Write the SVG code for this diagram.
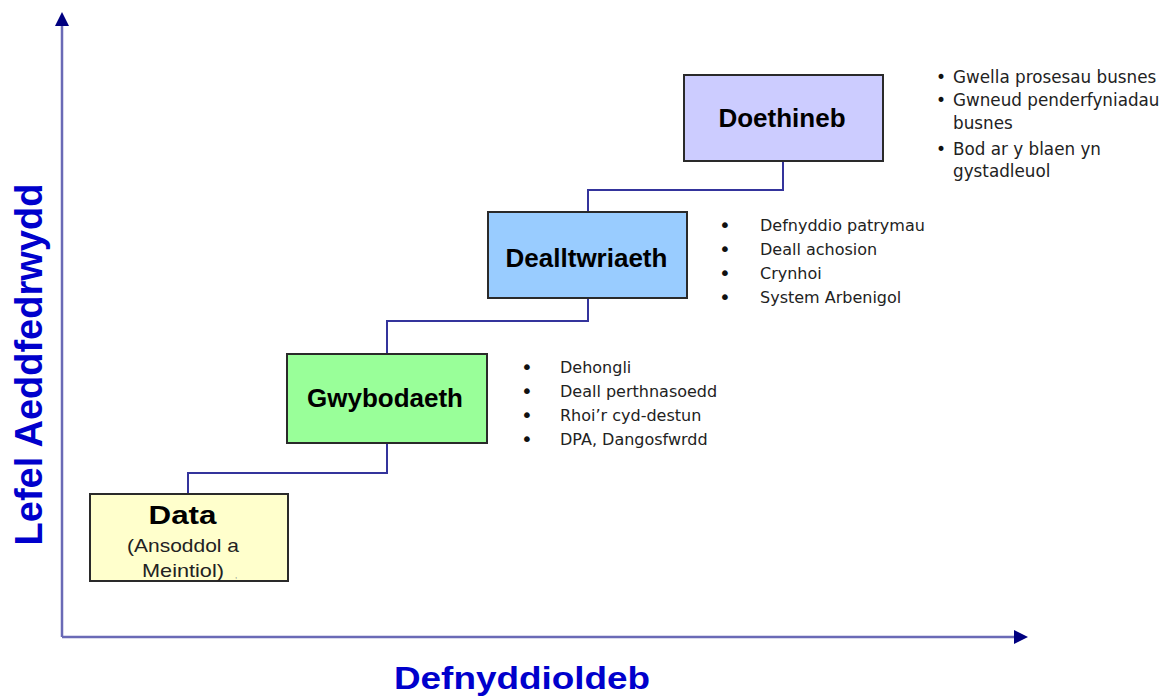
<svg xmlns="http://www.w3.org/2000/svg" width="1166" height="697" viewBox="0 0 1166 697">
<style>
.box{stroke:#2a2a2a;stroke-width:2}
.title{font-family:"Liberation Sans",Arial,sans-serif;font-weight:bold;font-size:26px;fill:#000;text-anchor:middle}
.sub{font-family:"Liberation Sans",Arial,sans-serif;font-size:19px;fill:#222;text-anchor:middle}
.li{font-family:"DejaVu Sans","Liberation Sans",sans-serif;font-size:16px;fill:#222}
.li3{font-family:"DejaVu Sans","Liberation Sans",sans-serif;font-size:16.8px;fill:#222}
.bul{font-family:"DejaVu Sans",sans-serif;font-size:20px;fill:#111;text-anchor:middle}
.bul3{font-family:"DejaVu Sans",sans-serif;font-size:17px;fill:#111;text-anchor:middle}
.axis{stroke:#6a6ab6;stroke-width:2.5;fill:none}
.conn{stroke:#34349c;stroke-width:2;fill:none}
.axlabel{font-family:"Liberation Sans",Arial,sans-serif;font-weight:bold;fill:#0000cc}
</style>
<defs>
<marker id="ah" viewBox="0 0 14 14" refX="0" refY="7" markerWidth="14" markerHeight="14" markerUnits="userSpaceOnUse" orient="auto">
<path d="M0,0 L14,7 L0,14 Z" fill="#000080"/>
</marker>
</defs>
<rect width="1166" height="697" fill="#ffffff"/>
<g id="axes">
<path class="axis" d="M62,637 V26" marker-end="url(#ah)"/>
<path class="axis" d="M62,637 H1014" marker-end="url(#ah)"/>
<text class="axlabel" font-size="38" text-anchor="middle" transform="translate(42,364.5) rotate(-90)">Lefel Aeddfedrwydd</text>
<text class="axlabel" font-size="32" x="394" y="689" textLength="256" lengthAdjust="spacingAndGlyphs">Defnyddioldeb</text>
</g>
<g id="connectors">
<path class="conn" d="M188,494 V473 H387 V443"/>
<path class="conn" d="M387,354 V321 H588 V298"/>
<path class="conn" d="M588,212 V190 H783 V161"/>
</g>
<g id="node-data">
<rect class="box" x="90" y="494" width="198" height="87" fill="#ffffcc"/>
<text class="title" x="182.5" y="524" font-size="31" textLength="68" lengthAdjust="spacingAndGlyphs">Data</text>
<text class="sub" x="183" y="552" textLength="112" lengthAdjust="spacingAndGlyphs">(Ansoddol a</text>
<text class="sub" x="183" y="577" textLength="82" lengthAdjust="spacingAndGlyphs">Meintiol)</text>
<text x="235" y="578" font-family="Liberation Sans,sans-serif" font-size="8" fill="#777">,</text>
</g>
<g id="node-gwybodaeth">
<rect class="box" x="287" y="354" width="200" height="89" fill="#99ff99"/>
<text class="title" x="385" y="407">Gwybodaeth</text>
</g>
<g id="node-dealltwriaeth">
<rect class="box" x="488" y="212" width="199" height="86" fill="#99ccff"/>
<text class="title" x="586.5" y="267">Dealltwriaeth</text>
</g>
<g id="node-doethineb">
<rect class="box" x="684" y="75" width="199" height="86" fill="#ccccff"/>
<text class="title" x="782" y="127">Doethineb</text>
</g>
<g id="list-gwybodaeth">
<text class="bul" x="527" y="374">•</text>
<text class="bul" x="527" y="398">•</text>
<text class="bul" x="527" y="422">•</text>
<text class="bul" x="527" y="446">•</text>
<text class="li" x="560" y="373">Dehongli</text>
<text class="li" x="560" y="397">Deall perthnasoedd</text>
<text class="li" x="560" y="421">Rhoi’r cyd-destun</text>
<text class="li" x="560" y="445">DPA, Dangosfwrdd</text>
</g>
<g id="list-dealltwriaeth">
<text class="bul" x="725" y="232">•</text>
<text class="bul" x="725" y="256">•</text>
<text class="bul" x="725" y="280">•</text>
<text class="bul" x="725" y="304">•</text>
<text class="li" x="760" y="231">Defnyddio patrymau</text>
<text class="li" x="760" y="255">Deall achosion</text>
<text class="li" x="760" y="279">Crynhoi</text>
<text class="li" x="760" y="303">System Arbenigol</text>
</g>
<g id="list-doethineb">
<text class="bul3" x="941" y="83">•</text>
<text class="bul3" x="941" y="106">•</text>
<text class="bul3" x="941" y="155">•</text>
<text class="li3" x="953" y="83">Gwella prosesau busnes</text>
<text class="li3" x="953" y="106">Gwneud penderfyniadau</text>
<text class="li3" x="953" y="129">busnes</text>
<text class="li3" x="953" y="155">Bod ar y blaen yn</text>
<text class="li3" x="953" y="177">gystadleuol</text>
</g>
</svg>
